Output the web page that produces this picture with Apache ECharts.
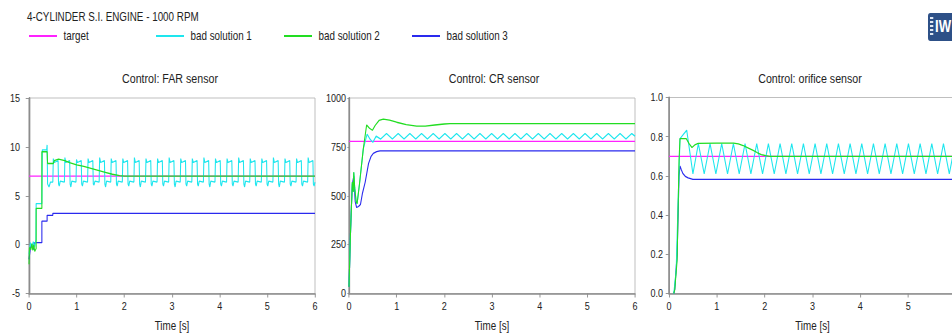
<!DOCTYPE html>
<html><head><meta charset="utf-8">
<script src="https://cdn.jsdelivr.net/npm/echarts@6/dist/echarts.min.js"></script>
<style>
html,body{margin:0;padding:0;background:#fff;overflow:hidden;width:952px;height:333px}
#c{width:1161px;height:333px;transform:scaleX(0.82);transform-origin:0 0}
</style>
</head><body><div id="c"></div>
<script>
const chartTitle = '4-CYLINDER S.I. ENGINE - 1000 RPM';
const seriesNames = ['target', 'bad solution 1', 'bad solution 2', 'bad solution 3'];
const seriesColors = ['#ff22ff', '#1ee6ee', '#22dd22', '#2a2aee'];
const panelTitles = ['Control: FAR sensor', 'Control: CR sensor', 'Control: orifice sensor'];
const xAxisName = 'Time [s]';
const xRange = [0, 6, 1];
const farRange = [-5, 15, 5];
const crRange = [0, 1000, 250];
const orifRange = [0, 1, 0.2];

// ---- FAR sensor panel ----
const farTarget = [[0, 7], [6, 7]];
const farBad1 = [[0,-1.0],[0.03,0.2],[0.06,-0.3],[0.09,0.3],[0.12,-0.2],[0.145,0.5],[0.15,4.2],[0.27,4.2],[0.28,9.7],[0.37,9.7],[0.38,10.2],[0.39,6.2],[0.42,5.9],[0.45,6.4],
[0.5,6.4],[0.51,8.8],[0.53,8.4],[0.61,8.6],[0.62,6.2],[0.635,6.0],[0.655,6.5],
[0.743,6.4],[0.753,8.9],[0.773,8.4],[0.853,8.6],[0.863,6.2],[0.878,5.9],[0.898,6.5],
[0.986,6.4],[0.996,8.7],[1.016,8.4],[1.096,8.6],[1.106,6.2],[1.121,6.0],[1.141,6.5],
[1.229,6.4],[1.239,8.8],[1.259,8.4],[1.339,8.6],[1.349,6.2],[1.364,6.1],[1.384,6.5],
[1.472,6.4],[1.482,8.9],[1.502,8.4],[1.582,8.6],[1.592,6.2],[1.607,5.9],[1.627,6.5],
[1.715,6.4],[1.725,8.8],[1.745,8.4],[1.825,8.6],[1.835,6.2],[1.85,6.0],[1.87,6.5],
[1.958,6.4],[1.968,8.8],[1.988,8.4],[2.068,8.6],[2.078,6.2],[2.093,6.0],[2.113,6.5],
[2.201,6.4],[2.211,8.9],[2.231,8.4],[2.311,8.6],[2.321,6.2],[2.336,5.9],[2.356,6.5],
[2.444,6.4],[2.454,8.8],[2.474,8.4],[2.554,8.6],[2.564,6.2],[2.579,6.0],[2.599,6.5],
[2.687,6.4],[2.697,8.8],[2.717,8.4],[2.797,8.6],[2.807,6.2],[2.822,6.0],[2.842,6.5],
[2.93,6.4],[2.94,8.9],[2.96,8.4],[3.04,8.6],[3.05,6.2],[3.065,5.9],[3.085,6.5],
[3.173,6.4],[3.183,8.8],[3.203,8.4],[3.283,8.6],[3.293,6.2],[3.308,6.0],[3.328,6.5],
[3.416,6.4],[3.426,8.8],[3.446,8.4],[3.526,8.6],[3.536,6.2],[3.551,6.0],[3.571,6.5],
[3.659,6.4],[3.669,8.9],[3.689,8.4],[3.769,8.6],[3.779,6.2],[3.794,5.9],[3.814,6.5],
[3.902,6.4],[3.912,8.8],[3.932,8.4],[4.012,8.6],[4.022,6.2],[4.037,6.0],[4.057,6.5],
[4.145,6.4],[4.155,8.8],[4.175,8.4],[4.255,8.6],[4.265,6.2],[4.28,6.0],[4.3,6.5],
[4.388,6.4],[4.398,8.9],[4.418,8.4],[4.498,8.6],[4.508,6.2],[4.523,5.9],[4.543,6.5],
[4.631,6.4],[4.641,8.8],[4.661,8.4],[4.741,8.6],[4.751,6.2],[4.766,6.0],[4.786,6.5],
[4.874,6.4],[4.884,8.8],[4.904,8.4],[4.984,8.6],[4.994,6.2],[5.009,6.0],[5.029,6.5],
[5.117,6.4],[5.127,8.9],[5.147,8.4],[5.227,8.6],[5.237,6.2],[5.252,5.9],[5.272,6.5],
[5.36,6.4],[5.37,8.8],[5.39,8.4],[5.47,8.6],[5.48,6.2],[5.495,6.0],[5.515,6.5],
[5.603,6.4],[5.613,8.8],[5.633,8.4],[5.713,8.6],[5.723,6.2],[5.738,6.0],[5.758,6.5],
[5.846,6.4],[5.856,8.9],[5.876,8.4],[5.956,8.6],[5.966,6.2],[5.981,6.0],[6.0,6.4]];
const farBad2 = [[0,-2.0],[0.01,-0.3],[0.04,-0.5],[0.06,0.1],[0.08,-0.6],[0.10,0.0],[0.12,-0.7],[0.15,-0.4],[0.15,3.7],[0.27,3.7],[0.27,9.5],[0.38,9.5],[0.39,8.3],[0.51,8.3],[0.53,8.6],[0.62,8.75],[0.75,8.6],[0.85,8.4],[1.0,8.15],[1.15,8.0],[1.3,7.8],[1.45,7.6],[1.6,7.4],[1.75,7.2],[1.9,7.05],[2.0,7.0],[6,7.0]];
const farBad3 = [[0,-1.5],[0.03,-0.3],[0.06,0.0],[0.09,-0.5],[0.12,0.2],[0.27,0.2],[0.27,2.4],[0.38,2.4],[0.38,3.0],[0.5,3.0],[0.5,3.2],[6,3.2]];

// ---- CR sensor panel ----
const crTarget = [[0, 778], [6, 778]];
const crBad1 = [[0,35],[0.03,300],[0.05,440],[0.07,570],[0.09,520],[0.10,620],[0.12,540],[0.15,470],[0.17,460],[0.22,560],[0.30,740],[0.38,815],[0.44,790],[0.50,773],[0.57,805],[0.665,790],
[0.787,818],[0.91,790],[1.032,818],[1.155,790],[1.277,818],[1.40,790],[1.522,818],[1.645,790],[1.767,818],[1.89,790],[2.012,818],[2.135,790],[2.257,818],[2.38,790],[2.502,818],[2.625,790],[2.747,818],[2.87,790],[2.992,818],[3.115,790],[3.237,818],[3.36,790],[3.482,818],[3.605,790],[3.727,818],[3.85,790],[3.972,818],[4.095,790],[4.217,818],[4.34,790],[4.462,818],[4.585,790],[4.707,818],[4.83,790],[4.952,818],[5.075,790],[5.197,818],[5.32,790],[5.442,818],[5.565,790],[5.687,818],[5.81,790],[5.932,818],[6.0,805]];
const crBad2 = [[0,35],[0.03,300],[0.05,440],[0.07,570],[0.09,520],[0.10,620],[0.12,540],[0.15,470],[0.17,460],[0.22,560],[0.30,740],[0.37,862],[0.43,845],[0.49,835],[0.55,860],[0.63,885],[0.72,892],[0.85,887],[1.0,876],[1.2,864],[1.42,856],[1.6,856],[1.8,862],[2.0,867],[2.12,869],[6,869]];
const crBad3 = [[0,35],[0.03,300],[0.05,440],[0.07,560],[0.10,600],[0.13,470],[0.16,440],[0.20,445],[0.24,455],[0.28,510],[0.34,570],[0.41,665],[0.46,700],[0.51,717],[0.58,726],[0.65,730],[6,730]];

// ---- orifice sensor panel ----
const orifTarget = [[0, 0.7], [6, 0.7]];
const orifBad1 = [[0.1,0],[0.15,0.12],[0.2,0.55],[0.23,0.79],[0.37,0.833],[0.50,0.61],[0.614,0.765],[0.736,0.61],[0.858,0.765],[0.98,0.61],[1.102,0.765],[1.224,0.61],[1.346,0.765],[1.468,0.61],[1.59,0.765],[1.712,0.61],[1.834,0.765],[1.956,0.61],[2.078,0.765],[2.2,0.61],[2.322,0.765],[2.444,0.61],[2.566,0.765],[2.688,0.61],[2.81,0.765],[2.932,0.61],[3.054,0.765],[3.176,0.61],[3.298,0.765],[3.42,0.61],[3.542,0.765],[3.664,0.61],[3.786,0.765],[3.908,0.61],[4.03,0.765],[4.152,0.61],[4.274,0.765],[4.396,0.61],[4.518,0.765],[4.64,0.61],[4.762,0.765],[4.884,0.61],[5.006,0.765],[5.128,0.61],[5.25,0.765],[5.372,0.61],[5.494,0.765],[5.616,0.61],[5.738,0.765],[5.86,0.61],[5.982,0.765],[6.0,0.74]];
const orifBad2 = [[0.1,0],[0.12,0.02],[0.17,0.17],[0.21,0.68],[0.23,0.79],[0.36,0.79],[0.42,0.765],[0.48,0.745],[0.55,0.76],[0.61,0.766],[1.0,0.767],[1.35,0.767],[1.45,0.763],[1.55,0.755],[1.66,0.742],[1.76,0.73],[1.85,0.718],[1.93,0.709],[2.02,0.703],[2.11,0.70],[6,0.70]];
const orifBad3 = [[0.1,0],[0.12,0.02],[0.17,0.2],[0.21,0.6],[0.23,0.65],[0.26,0.63],[0.29,0.612],[0.34,0.598],[0.40,0.59],[0.50,0.582],[6,0.582]];

// page is drawn in a wider box, then squeezed horizontally (like the reference)
const S = 0.82;
const X = v => v / S;

const panels = [
  { title: panelTitles[0], range: farRange, data: [farTarget, farBad1, farBad2, farBad3], grid: { left: X(29), top: 98, width: X(286), height: 195.5 }, tx: X(170), dec: 0, lm: X(9), maxLab: true },
  { title: panelTitles[1], range: crRange, data: [crTarget, crBad1, crBad2, crBad3], grid: { left: X(349), top: 98, width: X(286), height: 195.5 }, tx: X(494), dec: 0, lm: X(3), maxLab: true },
  { title: panelTitles[2], range: orifRange, data: [orifTarget, orifBad1, orifBad2, orifBad3], grid: { left: X(669), top: 97.5, width: X(287), height: 196 }, tx: X(810), dec: 1, lm: X(6), maxLab: false }
];

const FONT = "'Liberation Sans', Arial, sans-serif";
const axisGray = '#8c8c8c';
const drawOrder = [0, 3, 1, 2];

const option = {
  animation: false,
  backgroundColor: '#ffffff',
  textStyle: { fontFamily: FONT },
  grid: panels.map(p => Object.assign({ show: true, borderColor: '#b8b8b8', borderWidth: 1, backgroundColor: 'transparent', containLabel: false, outerBoundsMode: 'none' }, p.grid)),
  xAxis: panels.map((p, i) => ({
    gridIndex: i, type: 'value', min: xRange[0], max: xRange[1], interval: xRange[2],
    axisLine: { show: true, onZero: false, lineStyle: { color: axisGray, width: 1.6 } },
    axisTick: { show: true, length: 4, lineStyle: { color: axisGray } },
    axisLabel: { fontSize: 11, color: '#222', margin: 7, fontFamily: FONT, showMaxLabel: p.maxLab },
    splitLine: { show: false },
    name: xAxisName, nameLocation: 'middle', nameGap: 26,
    nameTextStyle: { fontSize: 12, lineHeight: 12, color: '#222', fontFamily: FONT }
  })),
  yAxis: panels.map((p, i) => ({
    gridIndex: i, type: 'value', min: p.range[0], max: p.range[1], interval: p.range[2],
    axisLine: { show: true, onZero: false, lineStyle: { color: axisGray, width: 2 } },
    axisTick: { show: true, length: i === 1 ? 2 : 4, lineStyle: { color: axisGray } },
    axisLabel: { fontSize: 11, color: '#222', margin: p.lm, fontFamily: FONT, formatter: v => v.toFixed(p.dec) },
    splitLine: { show: false }
  })),
  legend: seriesNames.map((n, i) => ({
    data: [n], left: X([29, 156, 284, 412][i]), top: 30, icon: 'rect', itemWidth: X(28), itemHeight: 2,
    selectedMode: false, padding: 0,
    textStyle: { fontSize: 12, color: '#222', fontFamily: FONT, padding: [0, 0, 0, 3] }
  })),
  series: [],
  graphic: [
    { type: 'text', left: X(27), top: 11, style: { text: chartTitle, fontSize: 12, fill: '#222', fontFamily: FONT } },
    ...panels.map(p => ({ type: 'text', x: p.tx, y: 79, style: { text: p.title, fontSize: 13, fill: '#222', fontFamily: FONT, align: 'center', verticalAlign: 'middle' } })),
    { type: 'group', children: [
      { type: 'rect', shape: { x: X(928), y: 13, width: X(30), height: 28, r: 3 }, style: { fill: '#2d5087' } },
      { type: 'rect', shape: { x: X(930), y: 17, width: 4, height: 2 }, style: { fill: '#dfe7f2' } },
      { type: 'rect', shape: { x: X(930), y: 21, width: 4, height: 2 }, style: { fill: '#dfe7f2' } },
      { type: 'rect', shape: { x: X(930), y: 25, width: 4, height: 2 }, style: { fill: '#dfe7f2' } },
      { type: 'rect', shape: { x: X(930), y: 29, width: 4, height: 2 }, style: { fill: '#dfe7f2' } },
      { type: 'rect', shape: { x: X(930), y: 33, width: 4, height: 2 }, style: { fill: '#dfe7f2' } },
      { type: 'text', x: X(935), y: 19, style: { text: 'IW', fontSize: 16, fontWeight: 'bold', fill: '#ffffff', fontFamily: FONT } }
    ] }
  ]
};

panels.forEach((p, pi) => {
  drawOrder.forEach(si => {
    option.series.push({
      type: 'line', name: seriesNames[si], xAxisIndex: pi, yAxisIndex: pi,
      data: p.data[si], showSymbol: false, symbol: 'none', silent: true, clip: true,
      color: seriesColors[si],
      lineStyle: { width: 1.3, color: seriesColors[si] }
    });
  });
});

const chart = echarts.init(document.getElementById('c'), null, { renderer: 'svg', width: 1161, height: 333 });
chart.setOption(option);
</script>
</body></html>
